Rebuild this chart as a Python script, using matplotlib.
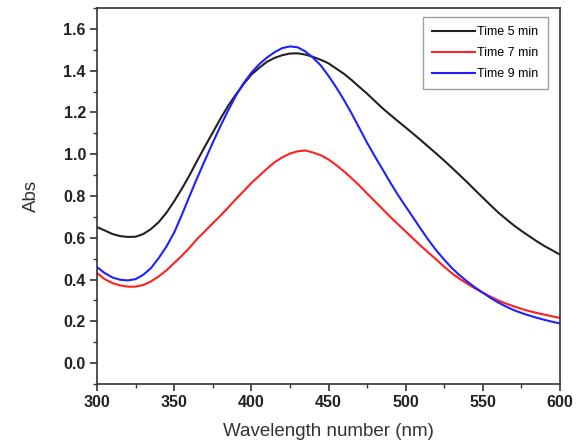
import matplotlib
matplotlib.use('Agg')
import matplotlib.pyplot as plt
from matplotlib.ticker import MultipleLocator, FormatStrFormatter

plt.rcParams['font.family'] = ['Liberation Sans', 'DejaVu Sans']

# wavelength grid (nm), absorbance values every 5 nm
wavelength = list(range(300, 605, 5))

abs_5min = [0.651, 0.635, 0.618, 0.608, 0.604, 0.605, 0.618, 0.642, 0.675, 0.720,
            0.775, 0.835, 0.900, 0.970, 1.038, 1.104, 1.170, 1.232, 1.286, 1.336,
            1.381, 1.413, 1.442, 1.461, 1.474, 1.482, 1.483, 1.477, 1.466, 1.452,
            1.435, 1.410, 1.385, 1.355, 1.322, 1.290, 1.255, 1.220, 1.189, 1.158,
            1.128, 1.097, 1.066, 1.034, 1.002, 0.969, 0.935, 0.900, 0.865, 0.828,
            0.792, 0.756, 0.721, 0.690, 0.660, 0.633, 0.608, 0.583, 0.560, 0.540,
            0.519]

abs_7min = [0.431, 0.402, 0.383, 0.372, 0.366, 0.366, 0.374, 0.391, 0.415, 0.444,
            0.479, 0.514, 0.553, 0.595, 0.632, 0.669, 0.706, 0.745, 0.785, 0.823,
            0.862, 0.896, 0.930, 0.961, 0.985, 1.003, 1.014, 1.018, 1.008, 0.995,
            0.975, 0.948, 0.918, 0.885, 0.850, 0.812, 0.775, 0.738, 0.700, 0.665,
            0.630, 0.595, 0.560, 0.527, 0.495, 0.461, 0.430, 0.403, 0.380, 0.357,
            0.337, 0.318, 0.300, 0.285, 0.272, 0.260, 0.249, 0.240, 0.232, 0.224,
            0.216]

abs_9min = [0.460, 0.431, 0.410, 0.399, 0.396, 0.402, 0.423, 0.455, 0.503, 0.558,
            0.625, 0.710, 0.800, 0.888, 0.972, 1.055, 1.135, 1.210, 1.280, 1.340,
            1.390, 1.430, 1.462, 1.488, 1.508, 1.516, 1.512, 1.492, 1.462, 1.425,
            1.375, 1.320, 1.260, 1.195, 1.125, 1.055, 0.990, 0.928, 0.865, 0.805,
            0.750, 0.695, 0.640, 0.587, 0.538, 0.495, 0.455, 0.420, 0.390, 0.362,
            0.337, 0.312, 0.290, 0.271, 0.254, 0.240, 0.228, 0.217, 0.207, 0.198,
            0.190]

fig = plt.figure(figsize=(5.77, 4.48), dpi=100)
ax = fig.add_axes([97 / 577, 1 - 384 / 448, 463 / 577, 376 / 448])

ax.plot(wavelength, abs_5min, color='#222222', lw=1.5, label='Time 5 min')
ax.plot(wavelength, abs_7min, color='#ff2020', lw=1.5, label='Time 7 min')
ax.plot(wavelength, abs_9min, color='#2020ff', lw=1.5, label='Time 9 min')

ax.set_xlim(300, 600)
ax.set_ylim(-0.1, 1.7)
ax.xaxis.set_major_locator(MultipleLocator(50))
ax.xaxis.set_minor_locator(MultipleLocator(25))
ax.yaxis.set_major_locator(MultipleLocator(0.2))
ax.yaxis.set_minor_locator(MultipleLocator(0.1))
ax.yaxis.set_major_formatter(FormatStrFormatter('%.1f'))

for s in ax.spines.values():
    s.set_color('#333333')
    s.set_linewidth(1.2)
ax.tick_params(which='major', direction='out', length=5, width=1.2, color='#333333',
               labelsize=11.5, pad=3)
ax.tick_params(which='minor', direction='out', length=3, width=1.0, color='#333333')
for lab in ax.get_xticklabels() + ax.get_yticklabels():
    lab.set_fontweight('bold')
    lab.set_color('#222222')

ax.set_xlabel('Wavelength number (nm)', fontsize=13.5, color='#333333', labelpad=9)
ax.set_ylabel('Abs', fontsize=13.5, color='#333333', labelpad=17)

leg = ax.legend(loc='upper right', bbox_to_anchor=(0.974, 0.976), borderaxespad=0,
                fontsize=9, fancybox=False, edgecolor='#888888', handlelength=3.4,
                handletextpad=0.2, borderpad=0.75, labelspacing=0.7)
leg.get_frame().set_linewidth(1.0)

fig.savefig('out.png', dpi=100)
